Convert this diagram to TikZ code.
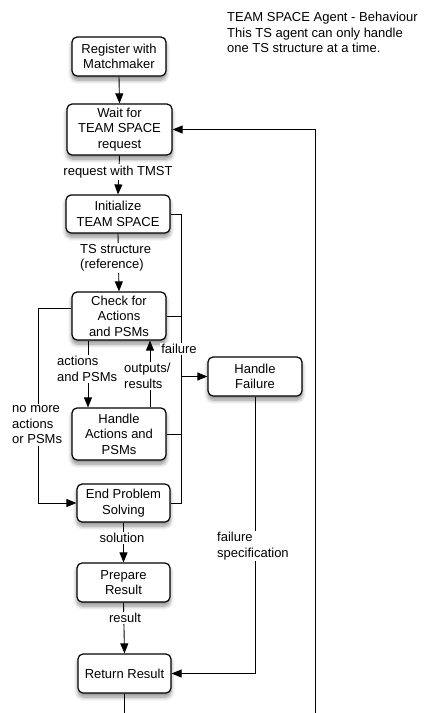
\documentclass[tikz,border=0pt]{standalone}
\usepackage{fontspec}
\setmainfont{Liberation Sans}
\usetikzlibrary{arrows.meta,shadows.blur}

\begin{document}
\begin{tikzpicture}[x=1pt,y=-1pt,
  txt/.style={font=\fontsize{13}{15.5}\selectfont},
  box/.style={txt, draw=black, line width=1.2pt, rounded corners=5pt, fill=white,
    align=center, inner sep=0pt,
    blur shadow={shadow xshift=0pt, shadow yshift=-4pt, shadow blur steps=6,
      shadow opacity=45, shadow blur radius=4pt}},
  link/.style={line width=0.9pt},
  arr/.style={link, -{Triangle[length=10pt,width=8pt]}},
  lbl/.style={txt, fill=white, inner sep=1.5pt, align=left},
]
\useasboundingbox (0,0) rectangle (424,713);
\clip (0,0) rectangle (424,713);

% heading
\node[txt, align=left, anchor=west, inner sep=0pt] (title) at (227,32.5)
  {TEAM SPACE Agent - Behaviour\\This TS agent can only handle\\one TS structure at a time.};

% process steps
\node[box, minimum width=94pt,  minimum height=39pt] (reg)    at (119,56.5)  {Register with\\Matchmaker};
\node[box, minimum width=105pt, minimum height=51pt] (wait)   at (119.5,129.5) {Wait for\\TEAM SPACE\\request};
\node[box, minimum width=104pt, minimum height=38pt] (init)   at (118,214)   {Initialize\\TEAM SPACE};
\node[box, minimum width=94pt,  minimum height=48pt] (check)  at (119,316)   {Check for\\Actions\\and PSMs};
\node[box, minimum width=94pt,  minimum height=39pt] (fail)   at (255,376.5) {Handle\\Failure};
\node[box, minimum width=94pt,  minimum height=52pt] (handle) at (119,434)   {Handle\\Actions and\\PSMs};
\node[box, minimum width=93pt,  minimum height=38pt] (endp)   at (123.5,503) {End Problem\\Solving};
\node[box, minimum width=93pt,  minimum height=39pt] (prep)   at (123.5,582.5) {Prepare\\Result};
\node[box, minimum width=93pt,  minimum height=39pt] (ret)    at (124.5,673.5) {Return Result};

% guide coordinates for vertical runs
\coordinate (bus) at (181,0);
\coordinate (loopR) at (315,0);

% main flow
\draw[arr] (reg.south) -- (wait.north);
\draw[arr] (wait.south) -- (init.north);
\draw[arr] (init.south) -- (check.north);
\draw[arr] ([xshift=-31pt]check.south) -- ([xshift=-31pt]handle.north);
\draw[arr] ([xshift=31pt]handle.north) -- ([xshift=31pt]check.south);
\draw[arr] ([yshift=8pt]check.west) -- ++(-33,0) |- (endp.west);
\draw[arr] (endp.south) -- (prep.north);
\draw[arr] (prep.south) -- (ret.north);

% failure bus
\draw[link] (init.east) -- (init.east -| bus) -- (endp.east -| bus) -- (endp.east);
\draw[link] (check.east) -- (check.east -| bus);
\draw[link] (handle.east) -- (handle.east -| bus);
\draw[arr] (fail.west -| bus) -- (fail.west);
\draw[arr] (fail.south) |- (ret.east);

% return loop
\draw[arr] (ret.south) -- ++(0,40) -| (wait.east -| loopR) -- (wait.east);

% connector labels
\node[lbl] (l1) at (118,172) {request with TMST};
\node[lbl, anchor=west] (l2) at (78.5,258) {TS structure\\(reference)};
\node[lbl, anchor=west] (l3) at (55.5,369) {actions\\and PSMs};
\node[lbl, anchor=west] (l4) at (122.5,376) {outputs/\\results};
\node[lbl] (l5) at (179,349) {failure};
\node[lbl, anchor=west] (l6) at (10.5,425) {no more\\actions\\or PSMs};
\node[lbl] (l7) at (122,538) {solution};
\node[lbl] (l8) at (125,618) {result};
\node[lbl, anchor=west] (l9) at (215.5,546) {failure\\specification};
\end{tikzpicture}
\end{document}
